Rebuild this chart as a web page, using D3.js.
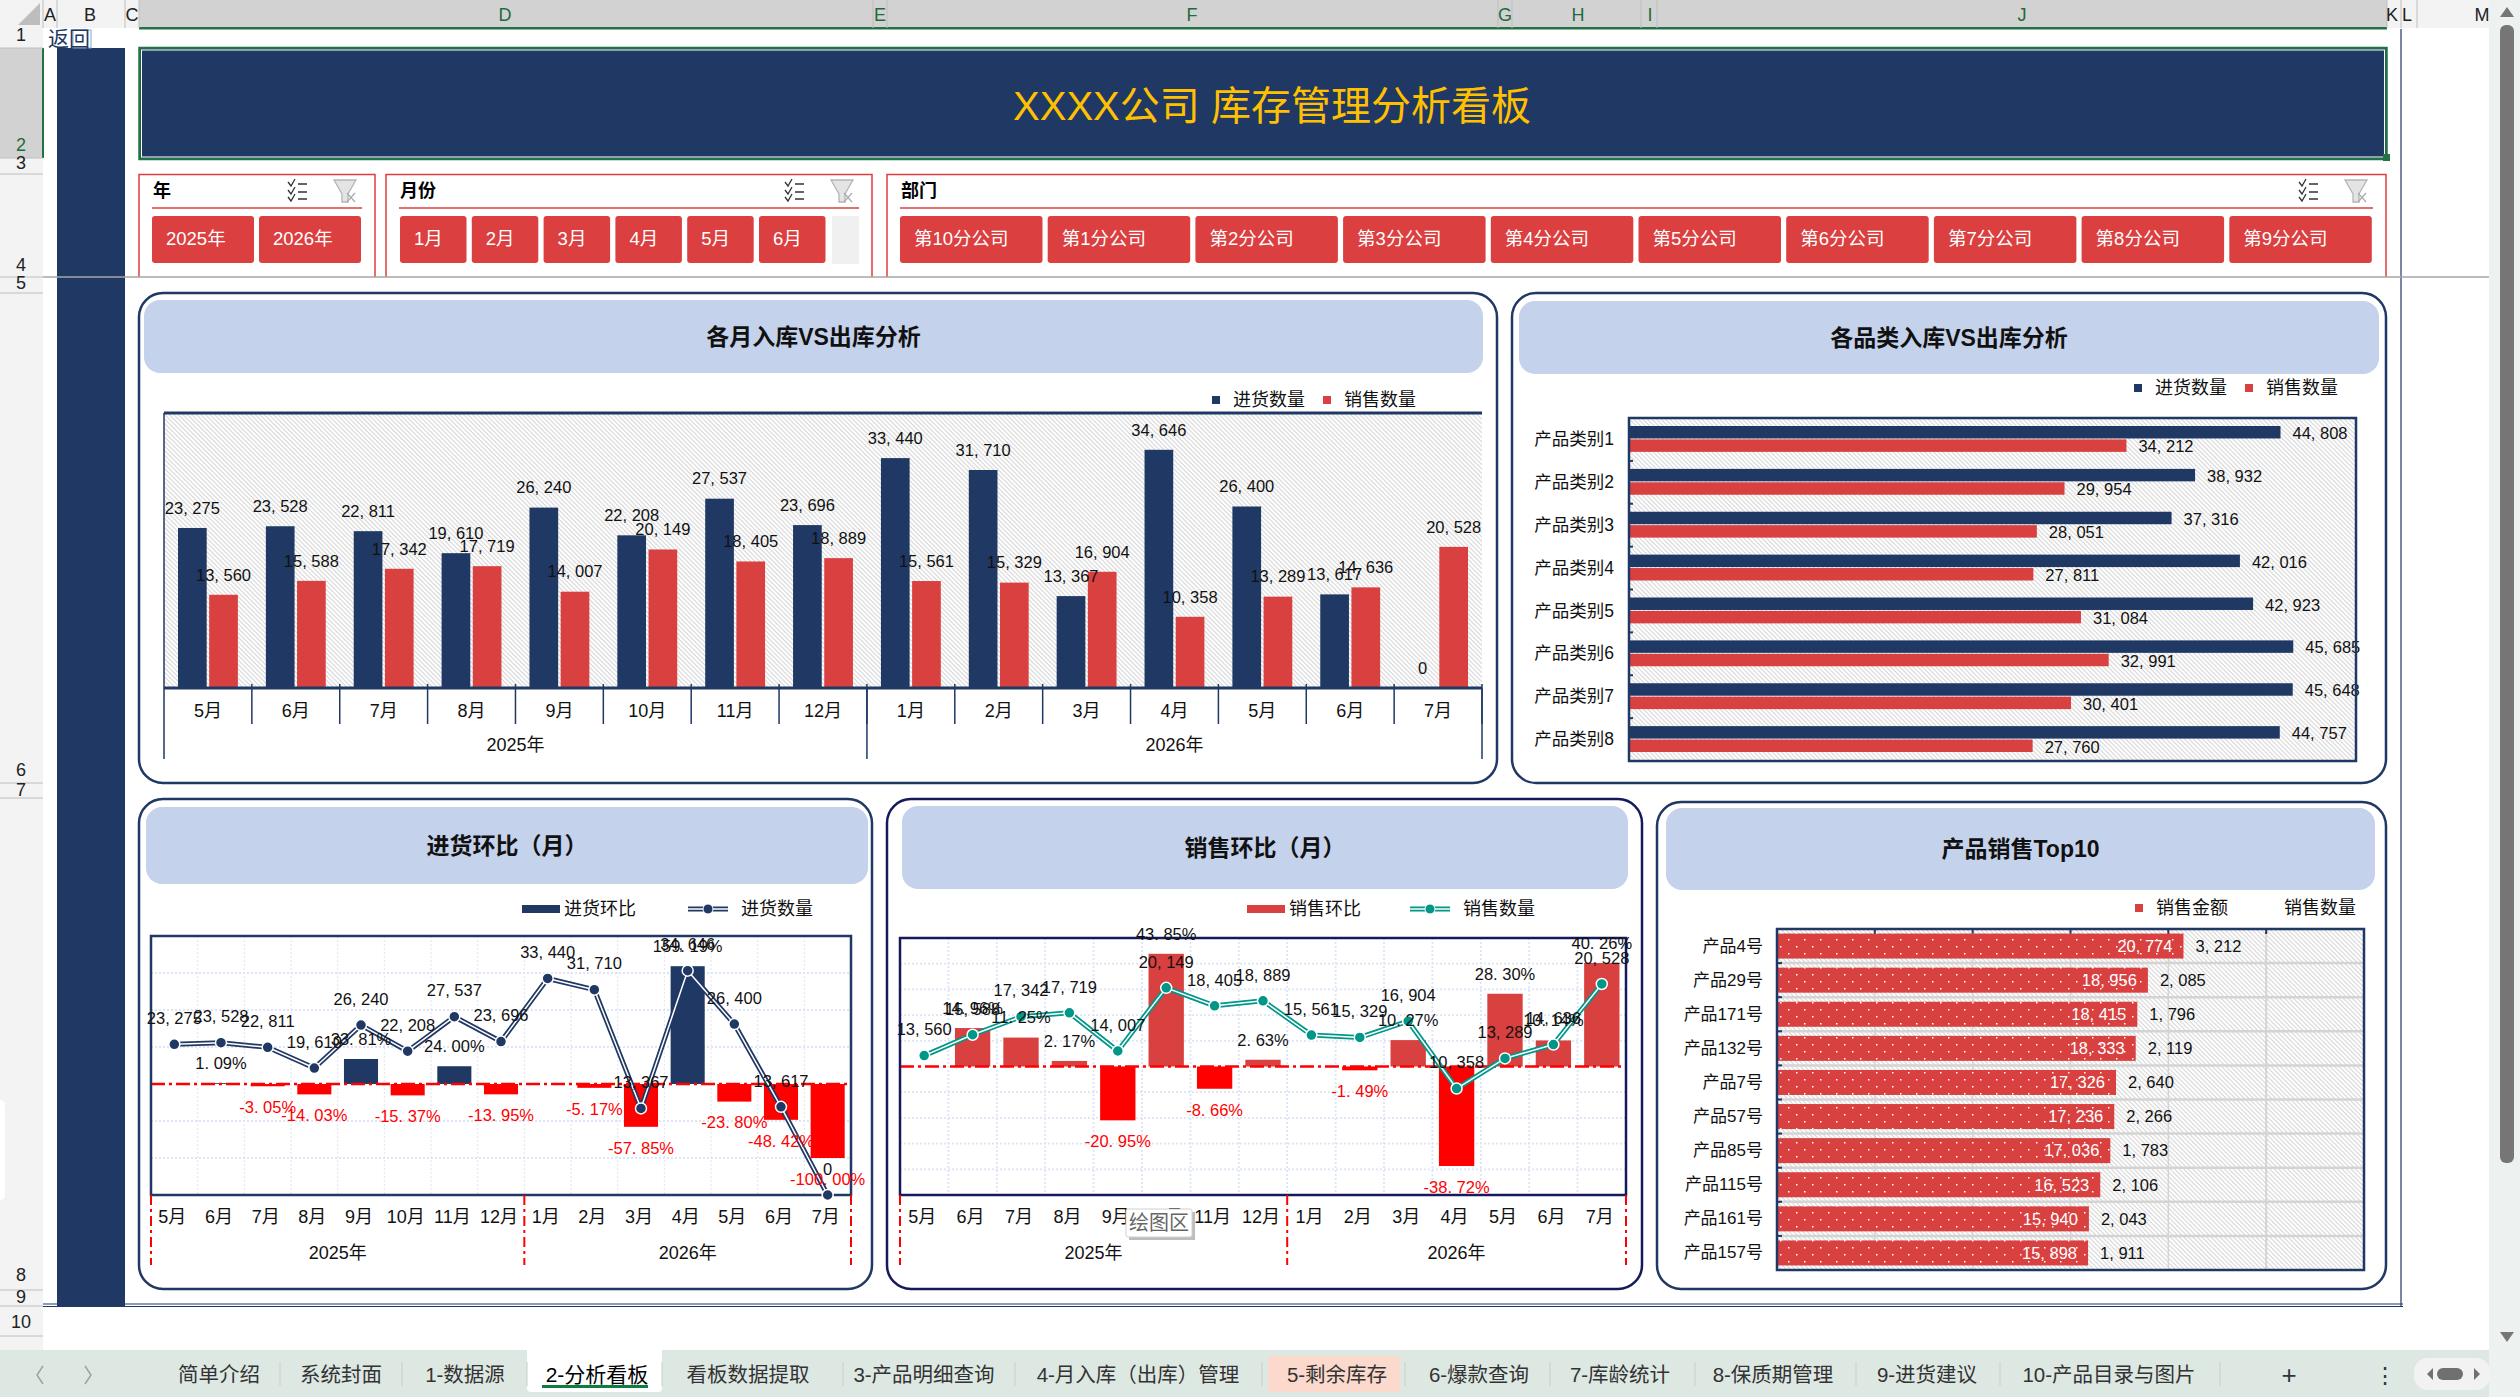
<!DOCTYPE html>
<html lang="zh">
<head>
<meta charset="UTF-8">
<title>XXXX公司 库存管理分析看板</title>
<script src="https://d3js.org/d3.v7.min.js"></script>
<style>
  html, body { margin: 0; padding: 0; background: #fff; overflow: hidden; }
  svg { display: block; }
  text { font-family: "Liberation Sans", "Noto Sans CJK SC", sans-serif; fill: #111; }
</style>
</head>
<body>
<svg id="sheet" width="2520" height="1397"></svg>
<script>
// ---- chart data ----
const months = ['5月','6月','7月','8月','9月','10月','11月','12月','1月','2月','3月','4月','5月','6月','7月'];
const years = ['2025年','2026年'];
const yearSpan = [8, 7];
const inQty = [23275,23528,22811,19610,26240,22208,27537,23696,33440,31710,13367,34646,26400,13617,0];
const outQty = [13560,15588,17342,17719,14007,20149,18405,18889,15561,15329,16904,10358,13289,14636,20528];
const inPct = [null,1.09,-3.05,-14.03,33.81,-15.37,24.00,-13.95,null,-5.17,-57.85,159.19,-23.80,-48.42,-100];
const outPct = [null,14.96,11.25,2.17,-20.95,43.85,-8.66,2.63,null,-1.49,10.27,-38.72,28.30,10.14,40.26];

const categories = ['产品类别1','产品类别2','产品类别3','产品类别4','产品类别5','产品类别6','产品类别7','产品类别8'];
const catIn = [44808,38932,37316,42016,42923,45685,45648,44757];
const catOut = [34212,29954,28051,27811,31084,32991,30401,27760];

const products = ['产品4号','产品29号','产品171号','产品132号','产品7号','产品57号','产品85号','产品115号','产品161号','产品157号'];
const topAmount = [20774,18956,18415,18333,17326,17236,17036,16523,15940,15898];
const topQty = [3212,2085,1796,2119,2640,2266,1783,2106,2043,1911];

// ---- slicers, tabs and sheet headers ----
const sliceYears = ['2025年','2026年'];
const sliceMonths = ['1月','2月','3月','4月','5月','6月'];
const sliceDepts = ['第10分公司','第1分公司','第2分公司','第3分公司','第4分公司','第5分公司','第6分公司','第7分公司','第8分公司','第9分公司'];
const tabs = ['简单介绍','系统封面','1-数据源','2-分析看板','看板数据提取','3-产品明细查询','4-月入库（出库）管理','5-剩余库存','6-爆款查询','7-库龄统计','8-保质期管理','9-进货建议','10-产品目录与图片'];
const colLetters = ['A','B','C','D','E','F','G','H','I','J','K','L','M'];
const rowNumbers = ['1','2','3','4','5','6','7','8','9','10'];

const NAVY = '#203864', RED = '#D94040', PURE = '#FF0000', TEAL = '#009688', DEEP = '#141A5C';
const svg = d3.select('#sheet');
const qtyFmt = v => d3.format(',')(v).replace(',', ', ');
const pctFmt = v => v.toFixed(2).replace('.', '. ') + '%';

// patterns
const defs = svg.append('defs');
const hatch = defs.append('pattern').attr('id', 'hatch').attr('patternUnits', 'userSpaceOnUse')
  .attr('width', 3.2).attr('height', 3.2).attr('patternTransform', 'rotate(45)');
hatch.append('rect').attr('width', 3.2).attr('height', 3.2).attr('fill', '#fff');
hatch.append('rect').attr('width', 3.2).attr('height', 1.1).attr('fill', '#D6D6D6');
const dots = defs.append('pattern').attr('id', 'dots').attr('patternUnits', 'userSpaceOnUse')
  .attr('width', 16).attr('height', 14);
dots.append('rect').attr('width', 16).attr('height', 14).attr('fill', RED);
dots.append('rect').attr('x', 3).attr('y', 3).attr('width', 1.5).attr('height', 1.5).attr('fill', '#fff');
dots.append('rect').attr('x', 11).attr('y', 10).attr('width', 1.5).attr('height', 1.5).attr('fill', '#fff');

function label(g, x, y, str, size, opts) {
  opts = opts || {};
  return g.append('text').attr('x', x).attr('y', y).attr('dy', '.35em')
    .attr('text-anchor', opts.anchor || 'middle')
    .attr('font-size', size)
    .attr('font-weight', opts.weight || 400)
    .style('fill', opts.fill || '#111')
    .text(str);
}

// ---- worksheet chrome ----
function drawChrome() {
  const g = svg.append('g');
  // column header strip
  g.append('rect').attr('width', 2489).attr('height', 28).attr('fill', '#F3F3F3');
  g.append('rect').attr('x', 139).attr('width', 2248).attr('height', 27).attr('fill', '#D2D2D2');
  g.append('rect').attr('x', 139).attr('y', 27).attr('width', 2248).attr('height', 2.5).attr('fill', '#217346');
  g.append('path').attr('d', 'M18,25 L40,3 L40,25 Z').attr('fill', '#BDBDBD');
  const colX = [50, 90, 132, 505, 880, 1192, 1505, 1578, 1650, 2022, 2392, 2407, 2482];
  const colEdge = [43, 57, 125, 139, 873, 887, 1498, 1512, 1641, 1657, 2387, 2401, 2417];
  colEdge.forEach(x => g.append('line').attr('x1', x).attr('x2', x).attr('y1', 0).attr('y2', 28).attr('stroke', '#BEBEBE'));
  colLetters.forEach((c, i) => label(g, colX[i], 15, c, 18, { fill: i > 2 && i < 10 ? '#1E6B3C' : '#222' }));

  // row header strip
  g.append('rect').attr('y', 28).attr('width', 43).attr('height', 1322).attr('fill', '#F3F3F3');
  g.append('rect').attr('y', 48).attr('width', 42).attr('height', 110).attr('fill', '#D2D2D2');
  g.append('rect').attr('x', 42).attr('y', 48).attr('width', 2).attr('height', 110).attr('fill', '#217346');
  const rowY = [35, 145, 163, 265, 283, 770, 790, 1275, 1297, 1322];
  [48, 158, 174, 277, 293, 783, 798, 1290, 1306, 1336].forEach(y => {
    g.append('line').attr('x1', 0).attr('x2', 43).attr('y1', y).attr('y2', y).attr('stroke', '#BEBEBE');
  });
  rowNumbers.forEach((r, i) => label(g, 21, rowY[i], r, 18, { fill: i === 1 ? '#1E6B3C' : '#222' }));
  g.append('rect').attr('x', -8).attr('y', 1100).attr('width', 13).attr('height', 100).attr('rx', 5).attr('fill', '#fff');

  // navy side column and return cell
  g.append('rect').attr('x', 57).attr('y', 48).attr('width', 68).attr('height', 1258).attr('fill', NAVY);
  g.append('rect').attr('x', 73).attr('y', 30).attr('width', 18).attr('height', 18).attr('fill', '#fff').attr('stroke', '#8EA3C8');
  label(g, 48, 39, '返回', 21, { anchor: 'start', fill: '#203864' });

  // title band
  g.append('rect').attr('x', 139.5).attr('y', 48).attr('width', 2247).attr('height', 111)
    .attr('fill', NAVY).attr('stroke', '#217346').attr('stroke-width', 2.5);
  g.append('rect').attr('x', 141.5).attr('y', 50).attr('width', 2243).attr('height', 107)
    .attr('fill', 'none').attr('stroke', '#fff').attr('stroke-width', 1);
  g.append('rect').attr('x', 2383).attr('y', 154).attr('width', 7).attr('height', 7).attr('fill', '#217346');
  label(g, 1272, 106, 'XXXX公司 库存管理分析看板', 40, { fill: '#FFC000' });

  // sheet edges
  g.append('line').attr('x1', 2401).attr('x2', 2401).attr('y1', 29).attr('y2', 1306).attr('stroke', NAVY).attr('stroke-width', 1.2);
  g.append('line').attr('x1', 43).attr('x2', 2403).attr('y1', 1304).attr('y2', 1304).attr('stroke', NAVY).attr('stroke-width', 1.2);
  g.append('line').attr('x1', 43).attr('x2', 2403).attr('y1', 1306.5).attr('y2', 1306.5).attr('stroke', NAVY).attr('stroke-width', 1.2);

  // scroll bar
  g.append('rect').attr('x', 2489).attr('width', 31).attr('height', 1397).attr('fill', '#EDF1EF');
  g.append('rect').attr('x', 2500).attr('y', 25).attr('width', 14).attr('height', 1138).attr('rx', 6).attr('fill', '#767676');
  g.append('path').attr('d', 'M2507,7 L2514,17 L2500,17 Z').attr('fill', '#767676');
  g.append('path').attr('d', 'M2507,1342 L2514,1332 L2500,1332 Z').attr('fill', '#767676');

  // sheet tabs
  g.append('rect').attr('y', 1350).attr('width', 2489).attr('height', 47).attr('fill', '#DEE8E3');
  g.append('path').attr('d', 'M527,1350 H662 V1388 Q662,1392 658,1392 H531 Q527,1392 527,1388 Z').attr('fill', '#fff');
  g.append('rect').attr('x', 1268).attr('y', 1356).attr('width', 132).attr('height', 36).attr('rx', 4).attr('fill', '#FBD9CC');
  g.append('rect').attr('x', 542).attr('y', 1385).attr('width', 106).attr('height', 3).attr('fill', '#107C41');
  const tabX = [219, 341, 465, 597, 748, 924, 1138, 1337, 1479, 1620, 1773, 1927, 2109];
  tabs.forEach((t, i) => label(g, tabX[i], 1375, t, i === 3 ? 21 : 20.5, { fill: i === 3 ? '#000' : '#333' }));
  [280, 402, 527, 662, 843, 1015, 1262, 1405, 1550, 1695, 1856, 2000, 2220].forEach(x => {
    g.append('line').attr('x1', x).attr('x2', x).attr('y1', 1362).attr('y2', 1386).attr('stroke', '#C6CFCA');
  });
  g.append('path').attr('d', 'M43,1366 L37,1375 L43,1384 M85,1366 L91,1375 L85,1384').attr('fill', 'none').attr('stroke', '#9AA5A0').attr('stroke-width', 1.5);
  label(g, 2289, 1375, '+', 26, { fill: '#333' });
  label(g, 2385, 1375, '⋮', 22, { fill: '#333' });
  g.append('rect').attr('x', 2414).attr('y', 1358).attr('width', 76).attr('height', 32).attr('rx', 14).attr('fill', '#F2F2F2');
  g.append('rect').attr('x', 2437).attr('y', 1368).attr('width', 26).attr('height', 12).attr('rx', 6).attr('fill', '#707070');
  g.append('path').attr('d', 'M2427,1374 L2433,1368 V1380 Z M2480,1374 L2474,1368 V1380 Z').attr('fill', '#707070');
}

// ---- slicers ----
function slicer(x, w, head, items, bx, bw, gap, extra) {
  const g = svg.append('g');
  g.append('path').attr('d', `M${x},277 V174.5 H${x + w} V277`).attr('fill', 'none').attr('stroke', '#E03C3C').attr('stroke-width', 1.5);
  label(g, x + 14, 191, head, 18, { anchor: 'start', weight: 700, fill: '#000' });
  g.append('line').attr('x1', x + 13).attr('x2', x + w - 13).attr('y1', 208).attr('y2', 208).attr('stroke', '#E03C3C').attr('stroke-width', 1.5);
  // check list icon
  const ix = x + w - 87;
  [184, 192, 199].forEach(y => {
    g.append('path').attr('d', `M${ix},${y - 2} l3,4 l4,-7 M${ix + 10},${y} h9`).attr('fill', 'none').attr('stroke', '#333').attr('stroke-width', 1.3);
  });
  // cleared filter icon
  const fx = x + w - 41;
  g.append('path').attr('d', `M${fx},180 h22 l-8,14 v8 l-6,0 v-8 Z`).attr('fill', '#E4E4E4').attr('stroke', '#B5B5B5').attr('stroke-width', 1.3);
  g.append('path').attr('d', `M${fx + 13},193 l8,9 M${fx + 21},193 l-8,9`).attr('stroke', '#AAA').attr('stroke-width', 1.2);

  const band = d3.scaleBand().domain(d3.range(items.length)).range([bx, bx + items.length * bw + (items.length - 1) * gap]).paddingInner(gap / (bw + gap)).paddingOuter(0);
  items.forEach((t, i) => {
    g.append('rect').attr('x', band(i)).attr('y', 216).attr('width', band.bandwidth()).attr('height', 47).attr('rx', 3).attr('fill', '#DB3F3F');
    label(g, band(i) + 14, 239, t, 18.5, { anchor: 'start', fill: '#fff' });
  });
  if (extra) g.append('rect').attr('x', extra).attr('y', 216).attr('width', 27).attr('height', 48).attr('fill', '#F0F0F0');
}

// ---- panel frame ----
function panel(x, y, w, h, bandBox, title, color) {
  const g = svg.append('g');
  g.append('rect').attr('x', x).attr('y', y).attr('width', w).attr('height', h).attr('rx', 24)
    .attr('fill', '#fff').attr('stroke', color || NAVY).attr('stroke-width', 2.5);
  g.append('rect').attr('x', bandBox[0]).attr('y', bandBox[1]).attr('width', bandBox[2]).attr('height', bandBox[3]).attr('rx', 16).attr('fill', '#C5D2EC');
  label(g, bandBox[0] + bandBox[2] / 2, bandBox[1] + bandBox[3] / 2, title, 23, { weight: 700, fill: '#111' });
}

function legendSwatch(x, y, color, text) {
  svg.append('rect').attr('x', x).attr('y', y - 4).attr('width', 8).attr('height', 8).attr('fill', color);
  label(svg, x + 21, y, text, 18, { anchor: 'start' });
}
function legendBar(x, y, color, text) {
  svg.append('rect').attr('x', x).attr('y', y - 4).attr('width', 38).attr('height', 8).attr('fill', color);
  label(svg, x + 42, y, text, 18, { anchor: 'start' });
}
function legendLine(x, y, color, text, tx) {
  svg.append('line').attr('x1', x).attr('x2', x + 40).attr('y1', y).attr('y2', y).attr('stroke', color).attr('stroke-width', 5);
  svg.append('line').attr('x1', x).attr('x2', x + 40).attr('y1', y).attr('y2', y).attr('stroke', '#fff').attr('stroke-width', 1.5);
  svg.append('circle').attr('cx', x + 20).attr('cy', y).attr('r', 5).attr('fill', color).attr('stroke', '#fff');
  label(svg, tx, y, text, 18, { anchor: 'start' });
}

// year separators shared by the month charts
function yearCaption(g, x, plotH, bottom, sepStyle) {
  const step = x.step();
  let start = 0;
  const edges = [0];
  years.forEach((yr, i) => {
    const x0 = start * step, x1 = (start + yearSpan[i]) * step;
    label(g, (x0 + x1) / 2, bottom.year, yr, 18);
    edges.push(x1);
    start += yearSpan[i];
  });
  edges.forEach(e => {
    const s = g.append('line').attr('x1', e).attr('x2', e).attr('y1', plotH).attr('y2', bottom.sep);
    s.attr('stroke', sepStyle.color).attr('stroke-width', sepStyle.width);
    if (sepStyle.dash) s.attr('stroke-dasharray', sepStyle.dash);
  });
}

// ---- chart 1: monthly grouped bars ----
function monthlyBars() {
  const m = { l: 164, t: 413, w: 1318, h: 275 };
  const g = svg.append('g').attr('transform', `translate(${m.l},${m.t})`);
  const x = d3.scaleBand().domain(d3.range(months.length)).range([0, m.w]).paddingInner(0);
  const x1 = d3.scaleBand().domain([0, 1]).range([14, x.step() - 14]).paddingInner(0.08);
  const y = d3.scaleLinear().domain([0, 40000]).range([m.h, 0]);

  g.append('rect').attr('width', m.w).attr('height', m.h).attr('fill', 'url(#hatch)');
  g.append('line').attr('x2', m.w).attr('stroke', NAVY).attr('stroke-width', 3);
  g.append('line').attr('y2', m.h).attr('stroke', NAVY).attr('stroke-width', 1.5);

  [[inQty, NAVY, 0], [outQty, RED, 1]].forEach(([vals, color, k]) => {
    g.selectAll(null).data(vals).enter().append('rect')
      .attr('x', (d, i) => x(i) + x1(k)).attr('y', d => y(d))
      .attr('width', x1.bandwidth()).attr('height', d => m.h - y(d)).attr('fill', color);
  });
  [[inQty, 0], [outQty, 1]].forEach(([vals, k]) => {
    vals.forEach((d, i) => label(g, x(i) + x1(k) + x1.bandwidth() / 2, y(d) - 20, qtyFmt(d), 16.5));
  });

  const ax = g.append('g').attr('transform', `translate(0,${m.h})`)
    .call(d3.axisBottom(x).tickSize(0).tickFormat(i => months[i]));
  ax.select('.domain').remove();
  ax.selectAll('text').attr('y', 23).attr('dy', '.35em').attr('font-size', 18).attr('font-family', null);
  g.append('line').attr('y1', m.h).attr('y2', m.h).attr('x2', m.w).attr('stroke', NAVY).attr('stroke-width', 3);
  d3.range(1, months.length + 1).forEach(i => {
    g.append('line').attr('x1', i * x.step()).attr('x2', i * x.step()).attr('y1', m.h - 4).attr('y2', m.h + 36).attr('stroke', NAVY).attr('stroke-width', 1.5);
  });
  yearCaption(g, x, m.h, { year: 332, sep: 346 }, { color: NAVY, width: 1.5 });
}

// ---- chart 2: category horizontal bars ----
function categoryBars() {
  const m = { l: 1629, t: 418, w: 727, h: 343 };
  const g = svg.append('g').attr('transform', `translate(${m.l},${m.t})`);
  const y = d3.scaleBand().domain(categories).range([0, m.h]);
  const y1 = d3.scaleBand().domain([0, 1]).range([8, y.step() - 9]).paddingInner(0.07);
  const x = d3.scaleLinear().domain([0, 50000]).range([0, m.w]);

  g.append('rect').attr('width', m.w).attr('height', m.h).attr('fill', 'url(#hatch)');
  [[catIn, NAVY, 0], [catOut, RED, 1]].forEach(([vals, color, k]) => {
    g.selectAll(null).data(vals).enter().append('rect')
      .attr('y', (d, i) => y(categories[i]) + y1(k)).attr('height', y1.bandwidth())
      .attr('width', d => x(d)).attr('fill', color);
    vals.forEach((d, i) => label(g, x(d) + 12, y(categories[i]) + y1(k) + y1.bandwidth() / 2 + 1, qtyFmt(d), 16.5, { anchor: 'start' }));
  });
  d3.range(1, categories.length).forEach(i => {
    g.append('line').attr('x2', 4).attr('y1', i * y.step()).attr('y2', i * y.step()).attr('stroke', NAVY).attr('stroke-width', 2);
  });
  g.append('rect').attr('width', m.w).attr('height', m.h).attr('fill', 'none').attr('stroke', NAVY).attr('stroke-width', 2.5);
  const ay = g.append('g').call(d3.axisLeft(y).tickSize(0).tickPadding(15));
  ay.select('.domain').remove();
  ay.selectAll('text').attr('font-size', 17.5).attr('font-family', null);
}

// ---- charts 3 and 4: bars of change with a quantity line ----
function changeCombo(box, opts) {
  const g = svg.append('g').attr('transform', `translate(${box.l},${box.t})`);
  const x = d3.scaleBand().domain(d3.range(months.length)).range([0, box.w]).paddingInner(0.27).paddingOuter(0.135);
  const yPct = d3.scaleLinear().domain(opts.pctDomain).range([box.h, 0]);
  const yQty = d3.scaleLinear().domain([0, opts.qtyMax]).range([box.h, 0]);

  // grid
  yPct.ticks(opts.gridCount).forEach(t => {
    if (t === opts.pctDomain[0] || t === opts.pctDomain[1] || t === 0) return;
    g.append('line').attr('x2', box.w).attr('y1', yPct(t)).attr('y2', yPct(t))
      .attr('stroke', '#DDE4F5').attr('stroke-width', 1.8).attr('stroke-dasharray', '2 2');
  });
  d3.range(1, months.length).forEach(i => {
    g.append('line').attr('x1', i * x.step()).attr('x2', i * x.step()).attr('y2', box.h)
      .attr('stroke', '#DDE4F5').attr('stroke-width', opts.vWidth).attr('stroke-dasharray', '2 2');
  });

  // change bars
  const idx = d3.range(months.length).filter(i => opts.pct[i] !== null);
  g.selectAll(null).data(idx).enter().append('rect')
    .attr('x', i => x(i)).attr('width', x.bandwidth())
    .attr('y', i => yPct(Math.max(0, opts.pct[i])))
    .attr('height', i => Math.abs(yPct(opts.pct[i]) - yPct(0)))
    .attr('fill', i => opts.pct[i] >= 0 ? opts.upColor : PURE);

  g.append('line').attr('x2', box.w).attr('y1', yPct(0)).attr('y2', yPct(0))
    .attr('stroke', PURE).attr('stroke-width', 2.5).attr('stroke-dasharray', '14 4 3 4');

  // frame
  g.append('rect').attr('width', box.w).attr('height', box.h).attr('fill', 'none').attr('stroke', opts.frame).attr('stroke-width', 2.5);

  // quantity line
  const cx = i => x(i) + x.bandwidth() / 2;
  const line = d3.line().x((d, i) => cx(i)).y(d => yQty(d));
  g.append('path').attr('d', line(opts.qty)).attr('fill', 'none').attr('stroke', opts.lineColor).attr('stroke-width', 5).attr('stroke-linejoin', 'round');
  g.append('path').attr('d', line(opts.qty)).attr('fill', 'none').attr('stroke', '#fff').attr('stroke-width', 1.5).attr('stroke-linejoin', 'round');
  g.selectAll(null).data(opts.qty).enter().append('circle')
    .attr('cx', (d, i) => cx(i)).attr('cy', d => yQty(d)).attr('r', 5.5)
    .attr('fill', opts.lineColor).attr('stroke', '#fff').attr('stroke-width', 1.5);

  // labels
  opts.qty.forEach((d, i) => label(g, cx(i), yQty(d) - 26, qtyFmt(d), 16.5));
  idx.forEach(i => {
    const v = opts.pct[i];
    if (v >= 0) label(g, cx(i), yPct(v) - 20, pctFmt(v), 16.5);
    else label(g, cx(i), yPct(v) + 21, pctFmt(v), 16.5, { fill: PURE });
  });

  // axis
  const ax = g.append('g').attr('transform', `translate(0,${box.h})`)
    .call(d3.axisBottom(x).tickSize(0).tickFormat(i => months[i]));
  ax.select('.domain').remove();
  ax.selectAll('text').attr('x', -2).attr('y', 22).attr('dy', '.35em').attr('font-size', 18).attr('font-family', null);
  yearCaption(g, x, box.h, { year: box.h + 58, sep: box.h + 70 }, { color: PURE, width: 2, dash: '10 4 3 4' });
}

// ---- chart 5: top ten products ----
function topProducts() {
  const m = { l: 1777, t: 929, w: 587, h: 341 };
  const g = svg.append('g').attr('transform', `translate(${m.l},${m.t})`);
  const y = d3.scaleBand().domain(products).range([0, m.h]).paddingInner(0.266).paddingOuter(0.133);
  const x = d3.scaleLinear().domain([0, 30000]).range([0, m.w]);

  g.append('rect').attr('width', m.w).attr('height', m.h).attr('fill', 'url(#hatch)');
  x.ticks(6).filter(t => t > 0 && t < 30000).forEach(t => {
    g.append('line').attr('x1', x(t)).attr('x2', x(t)).attr('y2', m.h).attr('stroke', '#D4D4D4').attr('stroke-width', t === 25000 ? 2 : 1.5);
    g.append('line').attr('x1', x(t)).attr('x2', x(t)).attr('y2', 5).attr('stroke', NAVY).attr('stroke-width', 2);
  });
  d3.range(1, products.length).forEach(i => {
    g.append('line').attr('x2', m.w).attr('y1', i * y.step()).attr('y2', i * y.step()).attr('stroke', '#D4D4D4').attr('stroke-width', 2.5);
    g.append('line').attr('x2', 5).attr('y1', i * y.step()).attr('y2', i * y.step()).attr('stroke', NAVY).attr('stroke-width', 2);
  });
  g.selectAll(null).data(topAmount).enter().append('rect')
    .attr('y', (d, i) => y(products[i])).attr('height', y.bandwidth())
    .attr('width', d => x(d)).attr('fill', 'url(#dots)');
  topAmount.forEach((d, i) => {
    const cy = y(products[i]) + y.bandwidth() / 2;
    label(g, x(d) - 11, cy, qtyFmt(d), 16.5, { anchor: 'end', fill: '#fff' });
    label(g, x(d) + 12, cy, qtyFmt(topQty[i]), 16.5, { anchor: 'start' });
  });
  g.append('rect').attr('width', m.w).attr('height', m.h).attr('fill', 'none').attr('stroke', NAVY).attr('stroke-width', 2.5);
  const ay = g.append('g').call(d3.axisLeft(y).tickSize(0).tickPadding(14));
  ay.select('.domain').remove();
  ay.selectAll('text').attr('font-size', 17).attr('font-family', null);
}

drawChrome();
slicer(139, 236, '年', sliceYears, 152, 102, 5);
slicer(386, 486, '月份', sliceMonths, 400, 66.5, 5.3, 832);
slicer(887, 1499, '部门', sliceDepts, 900, 142.5, 5.2);
svg.append('line').attr('x1', 43).attr('x2', 2489).attr('y1', 277).attr('y2', 277).attr('stroke', '#A6A6A6').attr('stroke-width', 1.5);

panel(139, 293, 1358, 490, [144, 300, 1339, 73], '各月入库VS出库分析');
legendSwatch(1212, 400, NAVY, '进货数量');
legendSwatch(1323, 400, RED, '销售数量');
monthlyBars();

panel(1512, 293, 874, 490, [1519, 301, 860, 73], '各品类入库VS出库分析');
legendSwatch(2134, 388, NAVY, '进货数量');
legendSwatch(2245, 388, RED, '销售数量');
categoryBars();

panel(139, 799, 733, 490, [146, 807, 722, 77], '进货环比（月）');
legendBar(522, 909, NAVY, '进货环比');
legendLine(688, 909, NAVY, '进货数量', 741);
changeCombo({ l: 151, t: 936, w: 700, h: 259 }, {
  pct: inPct, qty: inQty, pctDomain: [-150, 200], qtyMax: 40000, gridCount: 7,
  upColor: NAVY, lineColor: NAVY, frame: NAVY, vWidth: 1
});

panel(887, 799, 755, 490, [902, 806, 726, 83], '销售环比（月）', DEEP);
legendBar(1247, 909, RED, '销售环比');
legendLine(1410, 909, TEAL, '销售数量', 1463);
changeCombo({ l: 900, t: 938, w: 726, h: 257 }, {
  pct: outPct, qty: outQty, pctDomain: [-50, 50], qtyMax: 25000, gridCount: 10,
  upColor: RED, lineColor: TEAL, frame: DEEP, vWidth: 1.8
});

panel(1657, 802, 729, 487, [1666, 808, 709, 82], '产品销售Top10');
legendSwatch(2135, 908, RED, '销售金额');
label(svg, 2284, 908, '销售数量', 18, { anchor: 'start' });
topProducts();

// hover tip left on the sales chart
svg.append('rect').attr('x', 1129).attr('y', 1212).attr('width', 66).attr('height', 28).attr('fill', '#BDBDBD');
svg.append('rect').attr('x', 1126).attr('y', 1209).attr('width', 66).attr('height', 28).attr('rx', 2).attr('fill', '#fff').attr('stroke', '#D0D0D0');
label(svg, 1159, 1223, '绘图区', 20, { fill: '#666' });
</script>
</body>
</html>
